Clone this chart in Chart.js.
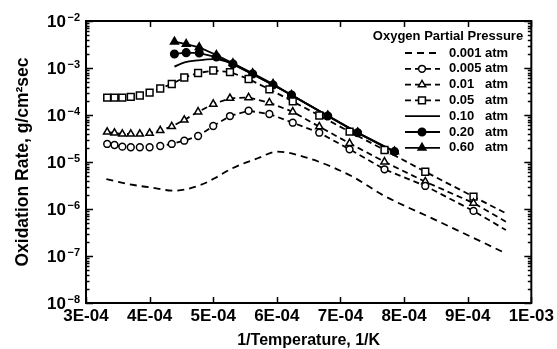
<!DOCTYPE html>
<html>
<head>
<meta charset="utf-8">
<script src="https://cdn.jsdelivr.net/npm/chart.js@4"></script>
<style>
  html, body { margin: 0; padding: 0; background: #fff; }
  #wrap { width: 557px; height: 349px; }
</style>
</head>
<body>
<div id="wrap"><canvas id="oxChart" width="557" height="349"></canvas></div>
<script>
// 1/T values of the measured points (3000 K ... 1100 K) and where the fitted lines end
const xOpen = [3.333e-4, 3.448e-4, 3.571e-4, 3.704e-4, 3.846e-4, 4.0e-4, 4.167e-4, 4.348e-4, 4.545e-4, 4.762e-4,
               5.0e-4, 5.263e-4, 5.556e-4, 5.882e-4, 6.25e-4, 6.667e-4, 7.143e-4, 7.692e-4, 8.333e-4, 9.091e-4, 9.6e-4];
const xFilled = [4.39e-4, 4.575e-4, 4.78e-4, 5.05e-4, 5.31e-4, 5.62e-4, 5.94e-4, 6.23e-4, 6.8e-4, 7.27e-4, 7.85e-4];

const x0001 = [3.32e-4, 3.75e-4, 4.0e-4, 4.39e-4, 4.8e-4, 5.02e-4, 5.3e-4, 5.7e-4, 6.0e-4, 6.5e-4, 7.2e-4, 7.66e-4, 8.5e-4, 9.6e-4];
const y0001 = [4.3e-6, 3.24e-6, 2.89e-6, 2.45e-6, 3.24e-6, 4.5e-6, 7.35e-6, 1.2e-5, 1.66e-5, 1.2e-5, 4.8e-6, 2.0e-6, 5.8e-7, 1.14e-7];

const y0005 = [2.42e-5, 2.3e-5, 2.12e-5, 2.06e-5, 2.06e-5, 2.06e-5, 2.19e-5, 2.42e-5, 2.84e-5, 3.57e-5,
               5.83e-5, 9.5e-5, 1.23e-4, 1.05e-4, 6.86e-5, 4.2e-5, 1.86e-5, 7.0e-6, 3.09e-6, 9.1e-7, 3.57e-7];
const y001 = [4.35e-5, 4.14e-5, 3.94e-5, 3.94e-5, 3.94e-5, 4.1e-5, 4.68e-5, 5.69e-5, 7.83e-5, 1.17e-4,
              1.71e-4, 2.27e-4, 2.35e-4, 1.83e-4, 1.17e-4, 5.64e-5, 2.5e-5, 1.01e-5, 3.81e-6, 1.34e-6, 5.37e-7];
const y005 = [2.35e-4, 2.35e-4, 2.35e-4, 2.42e-4, 2.6e-4, 3.0e-4, 3.66e-4, 4.57e-4, 6.28e-4, 7.83e-4,
              8.85e-4, 8.2e-4, 5.83e-4, 3.52e-4, 1.94e-4, 9.75e-5, 4.41e-5, 1.8e-5, 6.2e-6, 1.83e-6, 8.1e-7];

const x010 = [4.39e-4, 4.55e-4, 4.75e-4, 5.0e-4, 5.2e-4, 5.5e-4, 5.94e-4, 6.23e-4, 6.8e-4, 7.27e-4, 7.88e-4];
const y010 = [1.07e-3, 1.31e-3, 1.45e-3, 1.55e-3, 1.38e-3, 8.9e-4, 4.35e-4, 2.65e-4, 9.5e-5, 4.15e-5, 1.55e-5];

const y020 = [1.99e-3, 2.12e-3, 2.08e-3, 1.71e-3, 1.22e-3, 7.45e-4, 4.35e-4, 2.67e-4, 9.53e-5, 4.2e-5, 1.66e-5];
const y060 = [3.63e-3, 3.24e-3, 2.75e-3, 1.89e-3, 1.26e-3, 7.71e-4, 4.57e-4, 2.67e-4, 9.76e-5, 4.25e-5, 1.67e-5];

const pressures = ['0.001', '0.005', '0.01', '0.05', '0.10', '0.20', '0.60'];
const legendTitle = 'Oxygen Partial Pressure';

const xTickValues = [3e-4, 4e-4, 5e-4, 6e-4, 7e-4, 8e-4, 9e-4, 1e-3];
const xTickLabels = ['3E-04', '4E-04', '5E-04', '6E-04', '7E-04', '8E-04', '9E-04', '1E-03'];
const yTickValues = [1e-8, 1e-7, 1e-6, 1e-5, 1e-4, 1e-3, 1e-2];
const yTickExps = ['\u22128', '\u22127', '\u22126', '\u22125', '\u22124', '\u22123', '\u22122'];

const FONT = '"Liberation Sans", Arial, sans-serif';

function pts(xs, ys) {
    return xs.map((x, i) => ({ x: x, y: ys[i] }));
}

// the open-marker series have one extra point at the end where only the line goes
const lastNoMarker = r => c => (c.dataIndex === c.dataset.data.length - 1 ? 0 : r);

const datasets = [
    { label: pressures[0], data: pts(x0001, y0001), borderDash: [7, 5], pointRadius: 0,
      cubicInterpolationMode: 'monotone' },
    { label: pressures[1], data: pts(xOpen, y0005), borderDash: [6, 4], pointStyle: 'circle',
      pointRadius: lastNoMarker(3.4), pointBackgroundColor: '#fff' },
    { label: pressures[2], data: pts(xOpen, y001), borderDash: [6, 4], pointStyle: 'triangle',
      pointRadius: lastNoMarker(4.2), pointBackgroundColor: '#fff' },
    { label: pressures[3], data: pts(xOpen, y005), borderDash: [6, 4], pointStyle: 'rect',
      pointRadius: lastNoMarker(4.8), pointBackgroundColor: '#fff' },
    { label: pressures[4], data: pts(x010, y010), pointRadius: 0, cubicInterpolationMode: 'monotone' },
    { label: pressures[5], data: pts(xFilled, y020), pointStyle: 'circle', pointRadius: 3.8,
      pointBackgroundColor: '#000' },
    { label: pressures[6], data: pts(xFilled, y060), pointStyle: 'triangle', pointRadius: 4.5,
      pointBackgroundColor: '#000' }
];
datasets.forEach(ds => {
    ds.borderColor = '#000';
    ds.borderWidth = 1.8;
    ds.pointBorderColor = '#000';
    ds.pointBorderWidth = 1.5;
    ds.fill = false;
});

const pressureLegend = {
    id: 'pressureLegend',
    afterDraw(chart) {
        const ctx = chart.ctx;
        ctx.save();
        ctx.fillStyle = '#000';
        ctx.font = 'bold 13px ' + FONT;
        ctx.textBaseline = 'middle';
        ctx.textAlign = 'center';
        ctx.fillText(legendTitle, 448, 36);
        chart.data.datasets.forEach((ds, i) => {
            const y = 53 + i * 15.8;
            ctx.strokeStyle = '#000';
            ctx.lineWidth = ds.borderWidth;
            ctx.setLineDash(ds.borderDash || []);
            ctx.beginPath();
            ctx.moveTo(405, y);
            ctx.lineTo(440, y);
            ctx.stroke();
            ctx.setLineDash([]);
            if (ds.pointStyle) {
                const r = typeof ds.pointRadius === 'function' ? ds.pointRadius({ dataIndex: 0, dataset: ds }) : ds.pointRadius;
                ctx.fillStyle = ds.pointBackgroundColor;
                ctx.lineWidth = ds.pointBorderWidth;
                Chart.helpers.drawPoint(ctx, { pointStyle: ds.pointStyle, radius: r, borderWidth: ds.pointBorderWidth, rotation: 0 }, 422, y);
            }
            ctx.fillStyle = '#000';
            ctx.textAlign = 'left';
            ctx.fillText(ds.label, 449, y);
            ctx.fillText('atm', 485, y);
        });
        ctx.restore();
    }
};

const frameAndTicks = {
    id: 'frameAndTicks',
    afterDraw(chart) {
        const { ctx, chartArea: a, scales: { x, y } } = chart;
        ctx.save();
        ctx.strokeStyle = '#000';
        ctx.lineWidth = 2;
        ctx.strokeRect(a.left, a.top, a.right - a.left, a.bottom - a.top);

        ctx.lineWidth = 1.5;
        ctx.beginPath();
        xTickValues.forEach(v => {
            const px = Math.round(x.getPixelForValue(v)) + 0.5;
            ctx.moveTo(px, a.bottom); ctx.lineTo(px, a.bottom - 6);
            ctx.moveTo(px, a.top); ctx.lineTo(px, a.top + 6);
        });
        yTickValues.forEach((v, i) => {
            const py = Math.round(y.getPixelForValue(v)) + 0.5;
            ctx.moveTo(a.left, py); ctx.lineTo(a.left + 7, py);
            ctx.moveTo(a.right, py); ctx.lineTo(a.right - 7, py);
            if (i < yTickValues.length - 1) {
                for (let m = 2; m <= 9; m++) {
                    const pm = Math.round(y.getPixelForValue(v * m)) + 0.5;
                    ctx.moveTo(a.left, pm); ctx.lineTo(a.left + 3.5, pm);
                    ctx.moveTo(a.right, pm); ctx.lineTo(a.right - 3.5, pm);
                }
            }
        });
        ctx.stroke();

        // decade labels: "10" with a raised exponent
        ctx.fillStyle = '#000';
        ctx.textAlign = 'right';
        ctx.textBaseline = 'alphabetic';
        yTickValues.forEach((v, i) => {
            const py = y.getPixelForValue(v);
            ctx.font = 'bold 11px ' + FONT;
            const ew = ctx.measureText(yTickExps[i]).width;
            ctx.fillText(yTickExps[i], 80, py);
            ctx.font = 'bold 17px ' + FONT;
            ctx.fillText('10', 80 - ew - 1.5, py + 6);
        });
        ctx.restore();
    }
};

new Chart(document.getElementById('oxChart').getContext('2d'), {
    type: 'line',
    data: { datasets },
    options: {
        responsive: false,
        animation: false,
        devicePixelRatio: 1,
        layout: { padding: { top: 21, right: 25, left: 0, bottom: 0 } },
        plugins: {
            legend: { display: false },
            tooltip: { enabled: false }
        },
        scales: {
            x: {
                type: 'linear',
                min: 3e-4,
                max: 1e-3,
                afterBuildTicks: s => { s.ticks = xTickValues.map(v => ({ value: v })); },
                afterFit: s => { s.height = 46; },
                grid: { display: false, drawTicks: false },
                border: { display: false },
                ticks: {
                    color: '#000',
                    padding: 3,
                    maxRotation: 0,
                    autoSkip: false,
                    font: { family: FONT, size: 17, weight: 'bold' },
                    callback: (v, i) => xTickLabels[i]
                },
                title: {
                    display: true,
                    text: '1/Temperature, 1/K',
                    color: '#000',
                    padding: { top: 0, bottom: 0 },
                    font: { family: FONT, size: 16, weight: 'bold', lineHeight: 1 }
                }
            },
            y: {
                type: 'logarithmic',
                min: 1e-8,
                max: 1e-2,
                afterBuildTicks: s => { s.ticks = yTickValues.map(v => ({ value: v })); },
                afterFit: s => { s.width = 86; },
                grid: { display: false, drawTicks: false },
                border: { display: false },
                ticks: { display: false },
                title: {
                    display: true,
                    text: 'Oxidation Rate, g/cm\u00b2sec',
                    color: '#000',
                    padding: { top: 13, bottom: 0 },
                    font: { family: FONT, size: 17.5, weight: 'bold' }
                }
            }
        }
    },
    plugins: [frameAndTicks, pressureLegend]
});
</script>
</body>
</html>
